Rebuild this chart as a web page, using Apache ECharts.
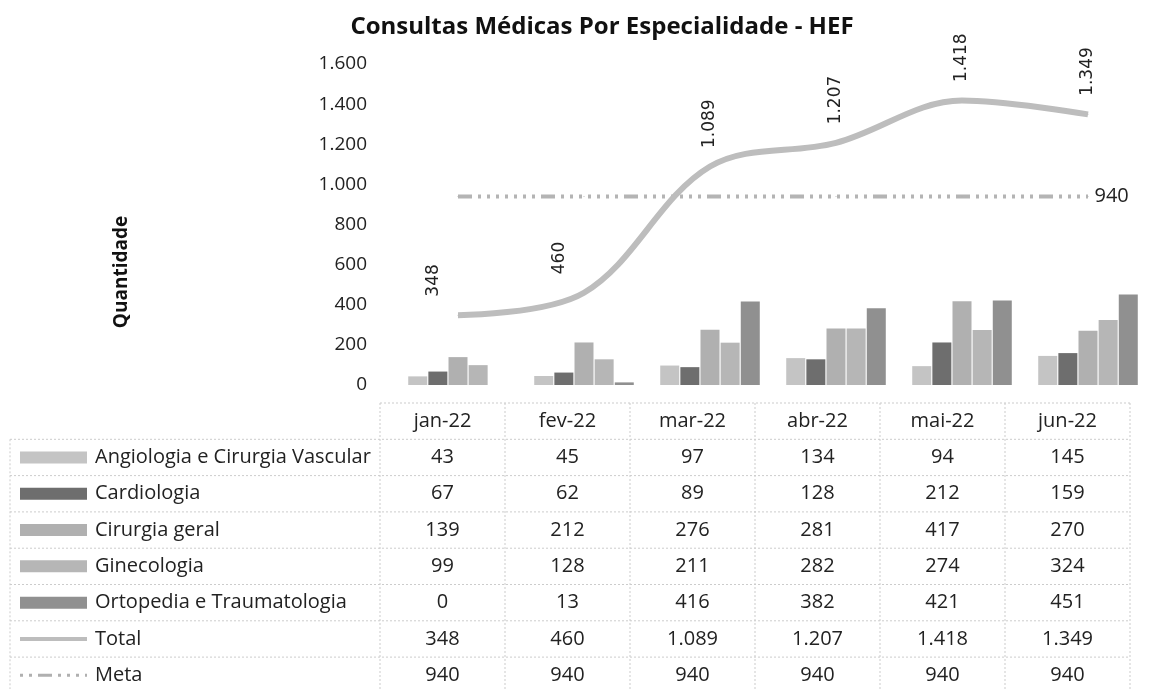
<!DOCTYPE html>
<html>
<head>
<meta charset="utf-8">
<script src="https://cdn.jsdelivr.net/npm/echarts@6/dist/echarts.min.js"></script>
<style>
  html, body { margin: 0; padding: 0; background: #fff; }
  #chart { width: 1151px; height: 689px; }
</style>
</head>
<body>
<div id="chart"></div>
<script>
// dados do gráfico
var categorias = ['jan-22', 'fev-22', 'mar-22', 'abr-22', 'mai-22', 'jun-22'];
var angiologia = [43, 45, 97, 134, 94, 145];
var cardiologia = [67, 62, 89, 128, 212, 159];
var cirurgiaGeral = [139, 212, 276, 281, 417, 270];
var ginecologia = [99, 128, 211, 282, 274, 324];
var ortopedia = [0, 13, 416, 382, 421, 451];
var total = [348, 460, 1089, 1207, 1418, 1349];
var meta = [940, 940, 940, 940, 940, 940];
var yTicks = [0, 200, 400, 600, 800, 1000, 1200, 1400, 1600];

var FONT = 'Open Sans';

function fmt(v) {
  return String(v).replace(/\B(?=(\d{3})+(?!\d))/g, '.');
}

var barras = [
  { name: 'Angiologia e Cirurgia Vascular', data: angiologia, color: '#c4c4c4' },
  { name: 'Cardiologia', data: cardiologia, color: '#6e6e6e' },
  { name: 'Cirurgia geral', data: cirurgiaGeral, color: '#b0b0b0' },
  { name: 'Ginecologia', data: ginecologia, color: '#b6b6b6' },
  { name: 'Ortopedia e Traumatologia', data: ortopedia, color: '#909090' }
];

var chart = echarts.init(document.getElementById('chart'));

var series = barras.map(function (b) {
  return {
    name: b.name,
    type: 'bar',
    data: b.data,
    barWidth: 19,
    barGap: '6%',
    itemStyle: { color: b.color }
  };
});

// rótulos girados da linha Total (os dois primeiros ficam um pouco à esquerda, como no Excel)
series.push({
  name: 'Total',
  type: 'line',
  data: total.map(function (v, i) {
    return { value: v, label: { offset: [4, i < 2 ? -24 : 0] } };
  }),
  smooth: 0.35,
  symbol: 'circle',
  symbolSize: 1,
  showSymbol: true,
  z: 5,
  itemStyle: { color: '#bdbdbd' },
  lineStyle: { color: '#bdbdbd', width: 6 },
  label: {
    show: true,
    position: 'top',
    rotate: 90,
    align: 'left',
    verticalAlign: 'middle',
    distance: 14,
    fontFamily: 'DejaVu Sans',
    fontSize: 17,
    color: '#222',
    formatter: function (p) { return fmt(p.value); }
  }
});

series.push({
  name: 'Meta',
  type: 'line',
  data: meta,
  symbol: 'circle',
  symbolSize: 1,
  showSymbol: true,
  z: 4,
  itemStyle: { color: '#b0b0b0' },
  lineStyle: { color: '#b4b4b4', width: 4, type: [14, 6, 3, 6, 3, 6, 3, 6, 3, 6, 3, 6, 3, 6, 3, 6] },
  label: {
    show: true,
    position: 'right',
    distance: 6,
    fontFamily: FONT,
    fontSize: 20,
    color: '#222',
    formatter: function (p) { return p.dataIndex === meta.length - 1 ? fmt(p.value) : ''; }
  }
});

// tabela de dados
var tabLeft = 380, colW = 125, tabTop = 403, rowH = 36.3, keyX = 20;
var linhas = barras.map(function (b) { return { name: b.name, data: b.data, color: b.color, kind: 'bar' }; });
linhas.push({ name: 'Total', data: total, color: '#bdbdbd', kind: 'line' });
linhas.push({ name: 'Meta', data: meta, color: '#b0b0b0', kind: 'dash' });

var graphic = [];
var gridLine = { stroke: '#cccccc', lineWidth: 1, lineDash: [2, 2] };
var tabRight = tabLeft + colW * categorias.length;

// linhas horizontais
for (var r = 0; r <= linhas.length + 1; r++) {
  var y = tabTop + r * rowH;
  graphic.push({ type: 'line', shape: { x1: r === 0 ? tabLeft : 10, y1: y, x2: tabRight, y2: y }, style: gridLine, silent: true });
}
// linhas verticais
graphic.push({ type: 'line', shape: { x1: 10, y1: tabTop + rowH, x2: 10, y2: tabTop + rowH * (linhas.length + 1) }, style: gridLine, silent: true });
for (var c = 0; c <= categorias.length; c++) {
  var x = tabLeft + c * colW;
  graphic.push({ type: 'line', shape: { x1: x, y1: tabTop, x2: x, y2: tabTop + rowH * (linhas.length + 1) }, style: gridLine, silent: true });
}
// cabeçalho
categorias.forEach(function (cat, i) {
  graphic.push({
    type: 'text', x: tabLeft + colW * (i + 0.5), y: tabTop + rowH * 0.5,
    style: { text: cat, fontFamily: FONT, fontSize: 20, fill: '#222', align: 'center', verticalAlign: 'middle' }
  });
});
// corpo
linhas.forEach(function (ln, r) {
  var cy = tabTop + rowH * (r + 1.5);
  if (ln.kind === 'bar') {
    graphic.push({ type: 'rect', shape: { x: keyX, y: cy - 6, width: 67, height: 12 }, style: { fill: ln.color } });
  } else if (ln.kind === 'line') {
    graphic.push({ type: 'line', shape: { x1: keyX, y1: cy, x2: keyX + 67, y2: cy }, style: { stroke: ln.color, lineWidth: 4 } });
  } else {
    graphic.push({ type: 'line', shape: { x1: keyX, y1: cy, x2: keyX + 67, y2: cy }, style: { stroke: ln.color, lineWidth: 3, lineDash: [3, 6, 3, 6, 14, 6, 3, 6, 3, 6] } });
  }
  graphic.push({
    type: 'text', x: keyX + 75, y: cy,
    style: { text: ln.name, fontFamily: FONT, fontSize: 20, fill: '#222', align: 'left', verticalAlign: 'middle' }
  });
  ln.data.forEach(function (v, i) {
    graphic.push({
      type: 'text', x: tabLeft + colW * (i + 0.5), y: cy,
      style: { text: fmt(v), fontFamily: FONT, fontSize: 20, fill: '#222', align: 'center', verticalAlign: 'middle' }
    });
  });
});
// título do eixo
graphic.push({
  type: 'text', x: 122, y: 272, rotation: Math.PI / 2,
  style: { text: 'Quantidade', fontFamily: FONT, fontSize: 19, fontWeight: 'bold', fill: '#111', align: 'center', verticalAlign: 'middle' }
});

var option = {
  animation: false,
  title: {
    text: 'Consultas Médicas Por Especialidade - HEF',
    left: 597,
    top: 10,
    textAlign: 'center',
    textStyle: { fontFamily: FONT, fontSize: 24, fontWeight: 'bold', color: '#111' }
  },
  grid: { left: 395, right: 0, top: 64, bottom: 304, containLabel: false },
  xAxis: {
    type: 'category',
    data: categorias,
    axisLine: { show: false },
    axisTick: { show: false },
    axisLabel: { show: false }
  },
  yAxis: {
    type: 'value',
    min: yTicks[0],
    max: yTicks[yTicks.length - 1],
    interval: yTicks[1] - yTicks[0],
    splitLine: { show: false },
    axisLine: { show: false },
    axisTick: { show: false },
    axisLabel: {
      margin: 28,
      fontFamily: FONT,
      fontSize: 19,
      color: '#222',
      formatter: function (v) { return fmt(v); }
    }
  },
  graphic: graphic,
  series: series
};

chart.setOption(option);
</script>
</body>
</html>
